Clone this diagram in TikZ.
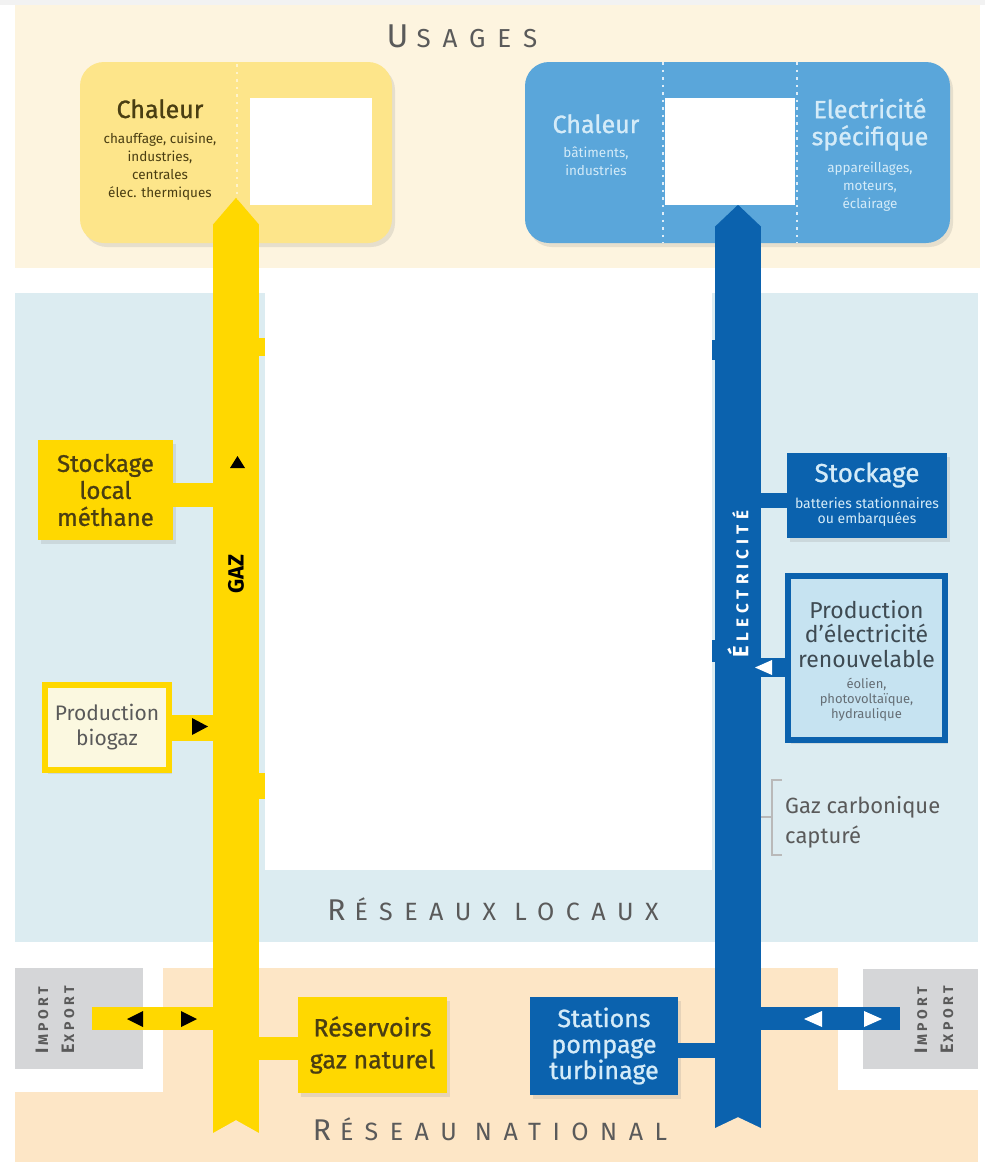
\documentclass[tikz,border=0pt]{standalone}
\usepackage{fontspec}
\setmainfont{Fira Sans}
\newfontfamily\semifont[FakeBold=1]{Fira Sans}
\newfontfamily\spacedfont[LetterSpace=46]{Fira Sans}
\newfontfamily\spacedbold[LetterSpace=25]{Fira Sans}
\newfontfamily\widebold[LetterSpace=30]{Fira Sans}
\usetikzlibrary{shadows}

\definecolor{creme}{HTML}{FDF4DF}
\definecolor{bleupale}{HTML}{DCECF1}
\definecolor{peche}{HTML}{FDE6C6}
\definecolor{gazjaune}{HTML}{FFD800}
\definecolor{gazclair}{HTML}{FDE58A}
\definecolor{gaztexte}{HTML}{4A3E12}
\definecolor{elecbleu}{HTML}{0B62AE}
\definecolor{elecclair}{HTML}{5AA6DA}
\definecolor{prodbleu}{HTML}{C6E3F1}
\definecolor{bleutexte}{HTML}{D4EBF8}
\definecolor{prodtexte}{HTML}{3E4A52}
\definecolor{grisboite}{HTML}{D5D6D8}
\definecolor{gristexte}{HTML}{5A5A5A}
\definecolor{biogazfond}{HTML}{FBF8E0}

\begin{document}
\begin{tikzpicture}[x=1pt,y=-1pt,
    ombre/.style={drop shadow={opacity=0.18,shadow xshift=3pt,shadow yshift=-4pt}},
    usage/.style={rounded corners=24pt,ombre,minimum height=181pt,inner sep=0pt},
    tuyau/.style={inner sep=0pt,minimum width=46pt},
    boite/.style={inner sep=0pt,align=center,ombre},
    branche/.style={line width=#1},
    texte/.style={inner sep=0pt,align=center},
    titre/.style={inner sep=0pt,font=\semifont\fontsize{25}{27}\selectfont},
    detail/.style={inner sep=0pt,align=center,font=\fontsize{13.5}{18}\selectfont},
    separation/.style={line width=2.2pt,dash pattern=on 2.5pt off 5pt},
    bande/.style={anchor=base,text=gristexte,inner sep=0pt}
  ]
  %% fond et bandes
  \fill[white] (0,0) rectangle (985,1162);
  \fill[black!5] (0,0) rectangle (985,5);
  \fill[creme] (15,5) rectangle (980,268);
  \fill[bleupale] (15,293) rectangle (978,942);
  \fill[peche] (15,968) rectangle (978,1162);
  \fill[white] (15,942) rectangle (163,1092);
  \fill[white] (838,942) rectangle (980,1090);
  \fill[grisboite] (15,968) rectangle (143,1069);
  \fill[grisboite] (863,969) rectangle (978,1069);

  %% titres des bandes
  \node[bande] (usages) at (462,47)
    {\spacedfont{\fontsize{33}{33}\selectfont U}\kern8pt{\fontsize{26}{26}\selectfont SAGES}};
  \node[bande] (locaux) at (493,920)
    {\spacedfont{\fontsize{30}{30}\selectfont R}\kern9pt{\fontsize{25}{25}\selectfont ÉSEAUX LOCAUX}};
  \node[bande] (national) at (490,1140)
    {\spacedfont{\fontsize{30}{30}\selectfont R}\kern9pt{\fontsize{25}{25}\selectfont ÉSEAU NATIONAL}};

  %% usages
  \node[usage,fill=gazclair,minimum width=312pt] (usageG) at (236,152.5) {};
  \node[usage,fill=elecclair,minimum width=425pt] (usageE) at (737.5,152.5) {};
  \draw[separation,white!55!gazclair] (237,64) -- (237,241);
  \draw[separation,white!80!elecclair] (663,62) -- (663,243);
  \draw[separation,white!80!elecclair] (797,62) -- (797,243);
  \node[titre,anchor=base,text=gaztexte] (chaleurG) at (160,118) {Chaleur};
  \node[detail,anchor=north,text=gaztexte] (chaleurGdet) at (160,133)
    {chauffage, cuisine,\\industries,\\centrales\\élec. thermiques};
  \node[titre,anchor=base,text=bleutexte] (chaleurE) at (596,133) {Chaleur};
  \node[detail,anchor=north,text=bleutexte] (chaleurEdet) at (596,147)
    {bâtiments,\\industries};
  \node[titre,anchor=north,align=center,text=bleutexte] (specif) at (870,98)
    {Electricité\\spécifique};
  \node[detail,anchor=north,text=bleutexte] (specifdet) at (870,162)
    {appareillages,\\moteurs,\\éclairage};

  %% conduites
  \node[tuyau,fill=gazjaune,minimum height=908pt] (gaz) at (236,679) {};
  \fill[gazjaune] (gaz.north west) -- ([yshift=27pt]gaz.north) -- (gaz.north east) -- cycle;
  \fill[peche] (gaz.south west) -- ([yshift=13pt]gaz.south) -- (gaz.south east) -- cycle;
  \node[tuyau,fill=elecbleu,minimum height=901pt] (elec) at (738,677.5) {};
  \fill[elecbleu] (elec.north west) -- ([yshift=22pt]elec.north) -- (elec.north east) -- cycle;
  \fill[peche] (elec.south west) -- ([yshift=11pt]elec.south) -- (elec.south east) -- cycle;

  %% boites cote gaz
  \node[boite,fill=gazjaune,minimum width=135pt,minimum height=100pt,text=gaztexte,
    font=\semifont\fontsize{24}{27}\selectfont] (stockG) at (105.5,490) {Stockage\\local\\méthane};
  \node[boite,fill=biogazfond,draw=gazjaune,line width=6pt,minimum width=124pt,minimum height=85pt,
    text=gristexte,font=\fontsize{21}{25}\selectfont] (biogaz) at (107,727.5) {Production\\biogaz};
  \node[boite,fill=gazjaune,minimum width=149pt,minimum height=96pt,text=gaztexte,
    font=\semifont\fontsize{25}{32}\selectfont] (reserv) at (372.5,1045) {Réservoirs\\gaz naturel};

  %% boites cote electricite
  \node[boite,fill=elecbleu,minimum width=160pt,minimum height=85pt] (stockE) at (867,495.5) {};
  \node[titre,anchor=base,text=bleutexte,font=\semifont\fontsize{26}{28}\selectfont] (stockEtit) at (867,482) {Stockage};
  \node[detail,anchor=north,text=bleutexte,font=\fontsize{14}{15.5}\selectfont] (stockEdet) at (867,497)
    {batteries stationnaires\\ou embarquées};
  \node[boite,fill=prodbleu,draw=elecbleu,line width=6pt,minimum width=157pt,minimum height=164pt] (prodE) at (866.5,658) {};
  \node[texte,anchor=north,text=prodtexte,font=\fontsize{23}{24.5}\selectfont] (prodEtit) at (866.5,600)
    {Production\\d’électricité\\renouvelable};
  \node[detail,anchor=north,text=prodtexte!80,font=\fontsize{13}{15}\selectfont] (prodEdet) at (866.5,678)
    {éolien,\\photovoltaïque,\\hydraulique};
  \node[boite,fill=elecbleu,minimum width=148pt,minimum height=98pt,text=bleutexte,
    font=\semifont\fontsize{25}{26}\selectfont] (stations) at (604,1046) {Stations\\pompage\\turbinage};

  %% branchements
  \draw[branche=24pt,gazjaune] ([yshift=-5pt]stockG.east) -- ([yshift=-5pt]stockG.east -| gaz.center);
  \draw[branche=26pt,gazjaune] (biogaz.east) -- (biogaz.east -| gaz.center);
  \draw[branche=23pt,gazjaune] ([yshift=-3pt]reserv.west) -- ([yshift=-3pt]reserv.west -| gaz.center);
  \coordinate (impG) at (92,1018.5);
  \draw[branche=23pt,gazjaune] (impG) -- (impG -| gaz.center);
  \coordinate (cacheG1) at (300,347);
  \coordinate (cacheG2) at (300,786);
  \draw[branche=18pt,gazjaune] (gaz.center |- cacheG1) -- (cacheG1);
  \draw[branche=26pt,gazjaune] (gaz.center |- cacheG2) -- (cacheG2);
  \draw[branche=15pt,elecbleu] ([yshift=-4.5pt]stockE.west) -- ([yshift=-4.5pt]stockE.west -| elec.center);
  \draw[branche=19pt,elecbleu] ([yshift=-9pt]prodE.west) -- ([yshift=-9pt]prodE.west -| elec.center);
  \draw[branche=15pt,elecbleu] ([yshift=-4pt]stations.east) -- ([yshift=-4pt]stations.east -| elec.center);
  \coordinate (impE) at (900,1018.5);
  \draw[branche=23pt,elecbleu] (elec.center |- impE) -- (impE);
  \coordinate (cacheE1) at (680,350);
  \coordinate (cacheE2) at (680,651);
  \draw[branche=20pt,elecbleu] (cacheE1) -- (cacheE1 -| elec.center);
  \draw[branche=22pt,elecbleu] (cacheE2) -- (cacheE2 -| elec.center);

  %% sens des flux
  \fill[black] (230,468) -- (237.5,456) -- (245,468) -- cycle;
  \fill[black] (192,718) -- (208,726.5) -- (192,735) -- cycle;
  \fill[black] (143,1011) -- (127,1019) -- (143,1027) -- cycle;
  \fill[black] (181,1011) -- (197,1019) -- (181,1027) -- cycle;
  \fill[white] (772,660) -- (755,667.5) -- (772,675) -- cycle;
  \fill[white] (822,1011) -- (804,1019) -- (822,1027) -- cycle;
  \fill[white] (864,1011) -- (882,1019) -- (864,1027) -- cycle;

  %% noms des conduites
  \node[rotate=90,inner sep=0pt,font=\bfseries\fontsize{22}{22}\selectfont] (gazlabel) at (236,574) {GAZ};
  \node[rotate=90,inner sep=0pt,text=white,font=\widebold\bfseries] (eleclabel) at (738,584)
    {{\fontsize{22}{22}\selectfont É}\kern4pt{\fontsize{17}{17}\selectfont LECTRICITÉ}};
  \node[rotate=90,texte,text=gristexte,font=\spacedbold\bfseries\fontsize{14}{26}\selectfont] (impGtxt) at (55,1020)
    {{\fontsize{18}{26}\selectfont I}\kern2pt MPORT\\{\fontsize{18}{26}\selectfont E}\kern2pt XPORT};
  \node[rotate=90,texte,text=gristexte,font=\spacedbold\bfseries\fontsize{14}{26}\selectfont] (impEtxt) at (934,1020)
    {{\fontsize{18}{26}\selectfont I}\kern2pt MPORT\\{\fontsize{18}{26}\selectfont E}\kern2pt XPORT};

  %% gaz carbonique
  \coordinate (crochet) at (772,817);
  \draw[gray!55,line width=1.3pt] (782,780) -- (772,780) -- (772,855) -- (782,855);
  \draw[gray!55,line width=1.3pt] (crochet -| elec.east) -- (crochet);
  \node[anchor=north west,inner sep=0pt,align=left,text=gristexte,font=\fontsize{22}{30}\selectfont] (co2) at (785,796)
    {Gaz carbonique\\capturé};

  %% zones masquees
  \fill[white] (250,98) rectangle (372,205);
  \fill[white] (665,98) rectangle (795,205);
  \fill[white] (265,278) rectangle (712,870);
\end{tikzpicture}
\end{document}
